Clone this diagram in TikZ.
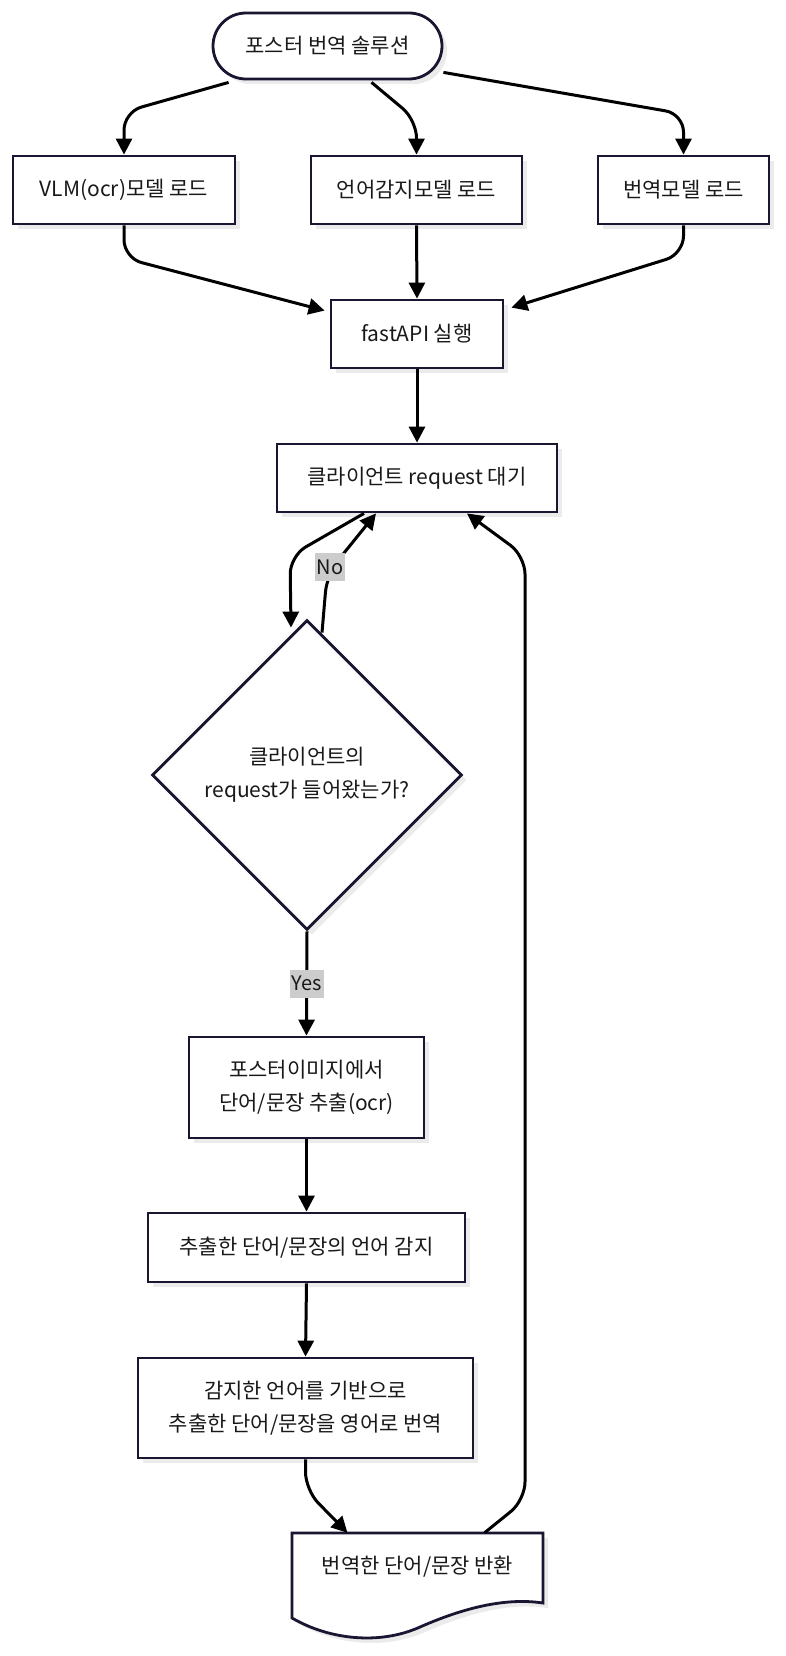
\documentclass[tikz,border=0pt]{standalone}
\usepackage{fontspec}
\setmainfont{Noto Sans CJK KR}
\usetikzlibrary{shapes.geometric,arrows.meta,shadows}
\definecolor{nodeline}{RGB}{24,22,48}
\definecolor{lblgray}{RGB}{204,204,204}
\tikzset{
  softshadow/.style={drop shadow={shadow xshift=5pt, shadow yshift=-5pt, fill=black!8, opacity=1}},
  box/.style={draw=nodeline, line width=2.8pt, fill=white, softshadow, align=center, inner sep=0pt},
  term/.style={box, rounded corners=33pt, minimum width=229pt, minimum height=66pt},
  decision/.style={box, diamond, minimum width=310pt, minimum height=310pt},
  arr/.style={-{Triangle[length=16pt,width=16pt]}, line width=3pt, rounded corners=18pt},
  lbl/.style={fill=lblgray, sharp corners, inner xsep=2pt, inner ysep=0pt, minimum height=28pt, font=\fontsize{20}{22}\selectfont}
}
\begin{document}
\begin{tikzpicture}[x=1pt, y=-1pt, every node/.style={font=\fontsize{21}{33}\selectfont, text=black!90}]
\fill[white] (0,0) rectangle (786,1656);
\useasboundingbox (0,0) rectangle (786,1656);
% top: start and model loading
\node[term] (start) at (327.5,46) {포스터 번역 솔루션};
\node[box, minimum width=222pt, minimum height=68pt] (vlm) at (124,190) {VLM(ocr)모델 로드};
\node[box, minimum width=211pt, minimum height=68pt] (lang) at (416.5,190) {언어감지모델 로드};
\node[box, minimum width=171pt, minimum height=68pt] (trm) at (683.5,190) {번역모델 로드};
\node[box, minimum width=172pt, minimum height=68pt] (api) at (417,334) {fastAPI 실행};
\node[box, minimum width=280pt, minimum height=68pt] (wait) at (417,478) {클라이언트 request 대기};
% decision
\node[decision] (dia) at (307,775) {클라이언트의\\request가 들어왔는가?};
% processing
\node[box, minimum width=235pt, minimum height=101pt] (ocr) at (306.5,1087.5) {포스터이미지에서\\단어/문장 추출(ocr)};
\node[box, minimum width=317pt, minimum height=69pt] (det) at (306.5,1247.5) {추출한 단어/문장의 언어 감지};
\node[box, minimum width=335pt, minimum height=100pt] (trn) at (305.5,1408) {감지한 언어를 기반으로\\추출한 단어/문장을 영어로 번역};
% document shape for the result
\draw[draw=nodeline, line width=2.8pt, fill=white, softshadow] (292,1533) -- (543,1533) -- (543,1603)
  .. controls (510,1598) and (470,1605) .. (420,1627)
  .. controls (380,1645) and (330,1640) .. (292,1618) -- cycle;
\node[minimum width=251pt, minimum height=68pt, inner sep=0pt] (doc) at (417.5,1567) {번역한 단어/문장 반환};
% connectors
\draw[arr] ([xshift=17pt,yshift=-2pt]start.south west) -- (vlm.north |- 0,112) -- (vlm.north);
\draw[arr] ([xshift=44pt,yshift=-2pt]start.south) -- (lang.north |- 0,120) -- (lang.north);
\draw[arr] ([yshift=8pt]start.south east) -- (trm.north |- 0,114) -- (trm.north);
\draw[arr] (vlm.south) -- (vlm.south |- 0,258) -- ([xshift=-5pt,yshift=-12pt]api.north west);
\draw[arr] (lang.south) -- (api.north);
\draw[arr] (trm.south) -- (trm.south |- 0,254) -- ([xshift=7pt,yshift=-9pt]api.north east);
\draw[arr] (api.south) -- (wait.north);
\draw[arr] ([xshift=-53pt]wait.south) -- (290,556) -- ([xshift=-16pt,yshift=-9pt]dia.north);
\draw[arr] ([xshift=15pt,yshift=-14pt]dia.north) -- (327,574) -- ([xshift=-41pt]wait.south);
\node[lbl] (nolbl) at (330,567) {No};
\draw[arr] (dia.south) -- (ocr.north) node[lbl, midway] (yeslbl) {Yes};
\draw[arr] (ocr.south) -- (det.north);
\draw[arr] (det.south) -- (trn.north);
\draw[arr] (trn.south) -- (trn.south |- 0,1490) -- ([xshift=-70pt]doc.north);
\draw[arr] ([xshift=67pt]doc.north) -- (525,1500) -- (525,556) -- ([xshift=50pt]wait.south);
\end{tikzpicture}
\end{document}
